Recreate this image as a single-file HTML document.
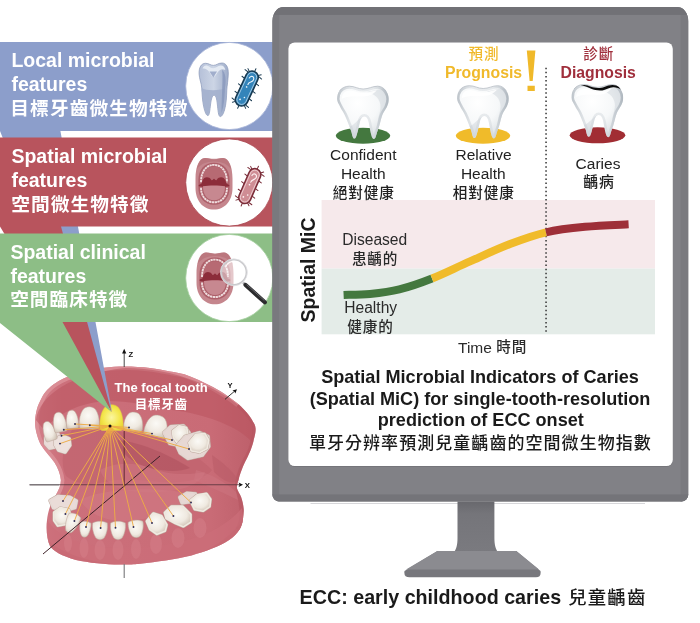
<!DOCTYPE html>
<html><head><meta charset="utf-8"><title>Spatial MiC</title>
<style>html,body{margin:0;padding:0;background:#fff}svg{display:block;will-change:transform}text{font-family:"Liberation Sans",sans-serif}text.cjk{font-family:"Liberation Sans","Noto Sans CJK TC",sans-serif}</style>
</head><body>
<svg width="700" height="623" viewBox="0 0 700 623">
<defs>
<radialGradient id="tg" cx="0.4" cy="0.32" r="0.8"><stop offset="0" stop-color="#ffffff"/><stop offset="0.5" stop-color="#f6f8f9"/><stop offset="1" stop-color="#d4dade"/></radialGradient>
<linearGradient id="tg2" x1="0" y1="0" x2="1" y2="0"><stop offset="0" stop-color="#aab2ba" stop-opacity="0.75"/><stop offset="0.3" stop-color="#c5ccd2" stop-opacity="0.35"/><stop offset="0.7" stop-color="#c5ccd2" stop-opacity="0.35"/><stop offset="1" stop-color="#a2abb4" stop-opacity="0.8"/></linearGradient>
</defs>
<rect width="700" height="623" fill="#fff"/>
<defs><linearGradient id="gumg" x1="0" y1="0" x2="1" y2="0"><stop offset="0" stop-color="#d27e88"/><stop offset="0.12" stop-color="#cc707b"/><stop offset="0.8" stop-color="#c96b76"/><stop offset="1" stop-color="#bd5f6a"/></linearGradient><radialGradient id="ivory" cx="0.45" cy="0.4" r="0.7"><stop offset="0" stop-color="#fbfaf6"/><stop offset="0.6" stop-color="#efe9e0"/><stop offset="1" stop-color="#cfc2b4"/></radialGradient><radialGradient id="ivoryT" cx="0.45" cy="0.4" r="0.7"><stop offset="0" stop-color="#f3ece8"/><stop offset="0.6" stop-color="#e2d2cd"/><stop offset="1" stop-color="#c3a8a6"/></radialGradient><radialGradient id="yel" cx="0.5" cy="0.5" r="0.6"><stop offset="0" stop-color="#fbf6a0"/><stop offset="0.6" stop-color="#f4e74e"/><stop offset="1" stop-color="#e6d232"/></radialGradient><clipPath id="jawclip"><path d="M67.1,377.1 C63,378.8 59,380.8 55.7,382.9 C52.5,385 49.5,387.3 47.1,390 C44.8,392.6 42.8,395.5 41.4,398.6 C39.7,402 38,405 37.1,408.6 C36,412.5 35.2,417 35,421 C34.9,425 35.6,429.5 36.5,433 C37.5,437 39,441.5 41,445 C45,451.5 51,457 54.5,462.6 C58,468 60.5,475 60.9,480 C61,485 59,490 56,494.7 C52,500 48,510 47,520 C46,530 47,540 50,546 C53,551 62,556 76,560 C90,563 110,565 124,564.5 C132,564.5 136,564.2 140,563.7 C149,562.8 157,561.8 165.7,560.6 C174.5,559.2 183,557.5 191.4,555.4 C198.5,553.5 205.5,551.2 212,548.6 C218,546.2 224,543.5 229.1,540 C233.5,537 237,533.5 239.4,529.7 C241.3,526.6 242.5,523 242.9,519.4 C243.3,516 244,512.5 243.7,509 C243.4,505 242.3,500.5 241.1,497 C240,494 237.8,491.5 237,488.6 C236.6,486 237.5,483 238.6,480 C240,473 244,464 245.8,460.5 C249,455 253,445 253.8,439.6 C255,435 256,431 255.5,428 C255,424 254,423.5 252.9,421.4 C251,418 249.5,415.5 247.1,412.9 C244.5,410 241.5,406.8 238.6,404.3 C235,401.3 231,398.5 227.1,395.7 C222.5,392.6 217.5,389.6 212.9,387.1 C208,384.5 203.5,382.2 198.6,380 C194,378 189,376 184.3,374.3 C179.5,372.8 175,372.2 170,371.4 C163,370 157,368.8 150,368 C142,367 133,366.5 125,366.5 C110,366.5 97,368.5 86,371 C79,372.5 72.5,374.8 67.1,377.1 Z"/></clipPath></defs>
<path d="M67.1,377.1 C63,378.8 59,380.8 55.7,382.9 C52.5,385 49.5,387.3 47.1,390 C44.8,392.6 42.8,395.5 41.4,398.6 C39.7,402 38,405 37.1,408.6 C36,412.5 35.2,417 35,421 C34.9,425 35.6,429.5 36.5,433 C37.5,437 39,441.5 41,445 C45,451.5 51,457 54.5,462.6 C58,468 60.5,475 60.9,480 C61,485 59,490 56,494.7 C52,500 48,510 47,520 C46,530 47,540 50,546 C53,551 62,556 76,560 C90,563 110,565 124,564.5 C132,564.5 136,564.2 140,563.7 C149,562.8 157,561.8 165.7,560.6 C174.5,559.2 183,557.5 191.4,555.4 C198.5,553.5 205.5,551.2 212,548.6 C218,546.2 224,543.5 229.1,540 C233.5,537 237,533.5 239.4,529.7 C241.3,526.6 242.5,523 242.9,519.4 C243.3,516 244,512.5 243.7,509 C243.4,505 242.3,500.5 241.1,497 C240,494 237.8,491.5 237,488.6 C236.6,486 237.5,483 238.6,480 C240,473 244,464 245.8,460.5 C249,455 253,445 253.8,439.6 C255,435 256,431 255.5,428 C255,424 254,423.5 252.9,421.4 C251,418 249.5,415.5 247.1,412.9 C244.5,410 241.5,406.8 238.6,404.3 C235,401.3 231,398.5 227.1,395.7 C222.5,392.6 217.5,389.6 212.9,387.1 C208,384.5 203.5,382.2 198.6,380 C194,378 189,376 184.3,374.3 C179.5,372.8 175,372.2 170,371.4 C163,370 157,368.8 150,368 C142,367 133,366.5 125,366.5 C110,366.5 97,368.5 86,371 C79,372.5 72.5,374.8 67.1,377.1 Z" fill="url(#gumg)"/>
<g clip-path="url(#jawclip)">
<path d="M56,494.7 C59,490 61,485 60.9,480 C60.5,475 58,468 54.5,462.6 C51,457 45,451.5 41,445 C39,441.5 37.5,437 36.5,433 C35.6,429.5 34.9,425 35,421 C35.2,417 36,412.5 37.1,408.6 C38,405 39.7,402 41.4,398.6 C42.8,395.5 44.8,392.6 47.1,390 C49.5,387.3 52.5,385 55.7,382.9 C59,380.8 63,378.8 67.1,377.1 C72.5,374.8 79,372.5 86,371 C97,368.5 110,366.5 125,366.5 C133,366.5 142,367 150,368 C157,368.8 163,370 170,371.4 C175,372.2 179.5,372.8 184.3,374.3 C189,376 194,378 198.6,380 C203.5,382.2 208,384.5 212.9,387.1 C217.5,389.6 222.5,392.6 227.1,395.7 C231,398.5 235,401.3 238.6,404.3" fill="none" stroke="#dd939b" stroke-width="7" opacity="0.8"/>
<path d="M238.6,404.3 C244,409 252,418 254.5,424 C256,428 255,435 253.8,439.6 C253,445 249,455 245.8,460.5 C244,464 240,473 238.6,480 C237.5,487 238.5,490 240,494 C241,498 242.5,508 242.6,513.5 C243,518 241,526 238,530" fill="none" stroke="#b4545f" stroke-width="6" opacity="0.55"/>
<path d="M36,420 C40,395 70,374 125,368 C175,368 222,388 246,412 C254,424 254,436 252,442 C238,426 205,414 172,410 C150,405 125,401 110,401 C88,401 60,410 44,430 Z" fill="#b9545f" opacity="0.55"/>
<path d="M72,430 C85,428 100,430 111,431 C125,431 150,436 170,444 C190,452 205,462 212,470 C205,480 180,484 160,482 C140,480 120,478 105,482 C90,486 75,484 66,476 C60,465 62,445 72,430 Z" fill="#bd606c" opacity="0.55"/>
<path d="M118,440 C140,442 170,455 190,468 C175,474 150,470 135,462 C125,456 118,448 118,440 Z" fill="#ad505d" opacity="0.55"/>
<path d="M100,470 C115,462 135,462 150,468 C165,474 185,476 205,472 C200,488 170,494 140,492 C120,491 105,484 100,470 Z" fill="#cf7781" opacity="0.55"/>
<path d="M80,500 C100,488 160,486 190,494 C180,510 150,520 125,521 C105,521 88,514 80,500 Z" fill="#d17b85" opacity="0.5"/>
<path d="M212,455 C222,462 232,470 238,480 C232,486 222,480 214,472 Z" fill="#b85a66" opacity="0.5"/>
<path d="M196,470 C210,474 226,482 236,492 L238,500 C226,494 208,486 194,480 Z" fill="#cf7882" opacity="0.45"/>
<path d="M47,520 C60,540 90,548 125,548 C165,548 215,540 242,508 L246,540 L200,575 L60,575 L40,545 Z" fill="#cc6e79" opacity="0.7"/>
<ellipse cx="84" cy="548.0" rx="4.5" ry="10.0" fill="#d58089" opacity="0.5"/>
<ellipse cx="100" cy="550.0" rx="5.5" ry="10.0" fill="#d58089" opacity="0.5"/>
<ellipse cx="118" cy="550.0" rx="5.5" ry="10.0" fill="#d58089" opacity="0.5"/>
<ellipse cx="136" cy="549.0" rx="5.0" ry="10.0" fill="#d58089" opacity="0.5"/>
<ellipse cx="156" cy="544.0" rx="6.0" ry="10.0" fill="#d58089" opacity="0.5"/>
<ellipse cx="178" cy="538.0" rx="6.5" ry="10.0" fill="#d58089" opacity="0.5"/>
<ellipse cx="200" cy="528.0" rx="6.5" ry="10.0" fill="#d58089" opacity="0.5"/>
<ellipse cx="68" cy="543.0" rx="4.0" ry="9.0" fill="#d58089" opacity="0.5"/>
<path d="M47,540 C70,560 110,566 140,565 C180,563 220,552 243,520 L250,580 L40,580 Z" fill="#bd5f6a" opacity="0.22"/>
</g>
<path d="M45.6,437.4 L50.4,432.8 L57.8,433.5 L60.3,439.5 L57.0,446.8 L49.6,448.2 L45.6,443.6 Z" fill="#bda79c" stroke="#bda79c" stroke-width="4.1000000000000005" stroke-linejoin="round" opacity="0.97"/><path d="M45.6,437.4 L50.4,432.8 L57.8,433.5 L60.3,439.5 L57.0,446.8 L49.6,448.2 L45.6,443.6 Z" fill="#e9dcd8" stroke="#e9dcd8" stroke-width="3.2" stroke-linejoin="round" opacity="0.97"/><path d="M45.6,437.4 L50.4,432.8 L57.8,433.5 L60.3,439.5 L57.0,446.8 L49.6,448.2 L45.6,443.6 Z" fill="#e9dcd8" opacity="0.97"/>
<path d="M55.8,439.0 L62.6,436.0 L69.2,438.7 L69.9,445.4 L65.2,452.2 L58.6,450.2 L55.2,444.7 Z" fill="#bda79c" stroke="#bda79c" stroke-width="4.1000000000000005" stroke-linejoin="round" opacity="0.97"/><path d="M55.8,439.0 L62.6,436.0 L69.2,438.7 L69.9,445.4 L65.2,452.2 L58.6,450.2 L55.2,444.7 Z" fill="#ede2de" stroke="#ede2de" stroke-width="3.2" stroke-linejoin="round" opacity="0.97"/><path d="M55.8,439.0 L62.6,436.0 L69.2,438.7 L69.9,445.4 L65.2,452.2 L58.6,450.2 L55.2,444.7 Z" fill="#ede2de" opacity="0.97"/>
<path d="M43.0,438.6 C42.8,433.0 43.5,427.0 45.4,423.4 C47.0,420.4 51.0,420.4 52.6,423.4 C54.5,427.0 55.2,433.0 55.0,438.6 C55.0,440.2 54.4,441.0 53.3,441.0 L44.7,441.0 C43.6,441.0 43.0,440.2 43.0,438.6 Z" fill="url(#ivory)" stroke="#bda79c" stroke-width="0.5" transform="rotate(-18 49.0 431.0)"/>
<path d="M53.0,429.6 C52.7,424.0 53.5,418.0 55.6,414.4 C57.3,411.4 61.7,411.4 63.4,414.4 C65.5,418.0 66.3,424.0 66.0,429.6 C66.0,431.2 65.3,432.0 64.2,432.0 L54.8,432.0 C53.6,432.0 53.0,431.2 53.0,429.6 Z" fill="url(#ivory)" stroke="#bda79c" stroke-width="0.5" transform="rotate(-10 59.5 422.0)"/>
<path d="M66.0,426.1 C65.8,421.0 66.5,415.5 68.5,412.2 C70.1,409.5 74.2,409.5 75.8,412.2 C77.8,415.5 78.5,421.0 78.3,426.1 C78.3,427.6 77.7,428.3 76.6,428.3 L67.7,428.3 C66.6,428.3 66.0,427.6 66.0,426.1 Z" fill="url(#ivory)" stroke="#bda79c" stroke-width="0.5" transform="rotate(-5 72.2 419.1)"/>
<path d="M79.3,426.1 C78.9,419.9 80.1,413.3 83.3,409.3 C85.9,405.9 92.7,405.9 95.3,409.3 C98.5,413.3 99.7,419.9 99.3,426.1 C99.3,427.9 98.3,428.8 96.5,428.8 L82.1,428.8 C80.3,428.8 79.3,427.9 79.3,426.1 Z" fill="url(#ivory)" stroke="#bda79c" stroke-width="0.5" transform="rotate(0 89.3 417.7)"/>
<path d="M124.0,428.7 C123.6,423.4 124.8,417.7 127.8,414.3 C130.3,411.4 136.7,411.4 139.2,414.3 C142.2,417.7 143.4,423.4 143.0,428.7 C143.0,430.2 142.1,431.0 140.3,431.0 L126.7,431.0 C125.0,431.0 124.0,430.2 124.0,428.7 Z" fill="url(#ivory)" stroke="#bda79c" stroke-width="0.5" transform="rotate(4 133.5 421.5)"/>
<path d="M145.5,433.9 C145.1,427.9 146.4,421.4 150.0,417.6 C152.9,414.4 160.6,414.4 163.5,417.6 C167.1,421.4 168.4,427.9 168.0,433.9 C168.0,435.6 166.9,436.5 164.8,436.5 L148.7,436.5 C146.6,436.5 145.5,435.6 145.5,433.9 Z" fill="url(#ivory)" stroke="#bda79c" stroke-width="0.5" transform="rotate(14 156.8 425.8)"/>
<path d="M164.0,432.8 L171.0,426.5 L183.5,425.8 L189.0,432.5 L187.5,442.0 L180.5,445.8 L169.8,443.4 Z" fill="#bda79c" stroke="#bda79c" stroke-width="4.1000000000000005" stroke-linejoin="round" opacity="0.97"/><path d="M164.0,432.8 L171.0,426.5 L183.5,425.8 L189.0,432.5 L187.5,442.0 L180.5,445.8 L169.8,443.4 Z" fill="#e6d8d4" stroke="#e6d8d4" stroke-width="3.2" stroke-linejoin="round" opacity="0.97"/><path d="M164.0,432.8 L171.0,426.5 L183.5,425.8 L189.0,432.5 L187.5,442.0 L180.5,445.8 L169.8,443.4 Z" fill="#e6d8d4" opacity="0.97"/>
<path d="M173.3,431.2 L179.3,426.6 L186.0,428.0 L187.5,435.7 L183.6,442.4 L177.0,441.6 L174.0,437.2 Z" fill="#bda79c" stroke="#bda79c" stroke-width="4.1000000000000005" stroke-linejoin="round" opacity="1"/><path d="M173.3,431.2 L179.3,426.6 L186.0,428.0 L187.5,435.7 L183.6,442.4 L177.0,441.6 L174.0,437.2 Z" fill="url(#ivory)" stroke="#efe9e0" stroke-width="3.2" stroke-linejoin="round" opacity="1"/><path d="M173.3,431.2 L179.3,426.6 L186.0,428.0 L187.5,435.7 L183.6,442.4 L177.0,441.6 L174.0,437.2 Z" fill="url(#ivory)" opacity="1"/>
<path d="M177.0,446.0 L185.0,436.8 L199.5,432.6 L208.0,436.4 L208.8,446.6 L202.3,455.2 L188.0,458.5 L180.2,453.0 Z" fill="#bda79c" stroke="#bda79c" stroke-width="4.1000000000000005" stroke-linejoin="round" opacity="0.97"/><path d="M177.0,446.0 L185.0,436.8 L199.5,432.6 L208.0,436.4 L208.8,446.6 L202.3,455.2 L188.0,458.5 L180.2,453.0 Z" fill="#e6d8d4" stroke="#e6d8d4" stroke-width="3.2" stroke-linejoin="round" opacity="0.97"/><path d="M177.0,446.0 L185.0,436.8 L199.5,432.6 L208.0,436.4 L208.8,446.6 L202.3,455.2 L188.0,458.5 L180.2,453.0 Z" fill="#e6d8d4" opacity="0.97"/>
<path d="M189.6,442.8 L195.8,435.2 L204.5,434.3 L208.0,440.3 L206.4,448.2 L199.4,451.8 L191.8,450.2 Z" fill="#bda79c" stroke="#bda79c" stroke-width="4.1000000000000005" stroke-linejoin="round" opacity="1"/><path d="M189.6,442.8 L195.8,435.2 L204.5,434.3 L208.0,440.3 L206.4,448.2 L199.4,451.8 L191.8,450.2 Z" fill="url(#ivory)" stroke="#efe9e0" stroke-width="3.2" stroke-linejoin="round" opacity="1"/><path d="M189.6,442.8 L195.8,435.2 L204.5,434.3 L208.0,440.3 L206.4,448.2 L199.4,451.8 L191.8,450.2 Z" fill="url(#ivory)" opacity="1"/>
<path d="M50.4,500.6 L57.8,496.4 L69.8,497.2 L76.4,500.8 L75.0,507.8 L66.6,510.0 L53.4,507.8 Z" fill="#bda79c" stroke="#bda79c" stroke-width="4.1000000000000005" stroke-linejoin="round" opacity="0.97"/><path d="M50.4,500.6 L57.8,496.4 L69.8,497.2 L76.4,500.8 L75.0,507.8 L66.6,510.0 L53.4,507.8 Z" fill="#e9dcd8" stroke="#e9dcd8" stroke-width="3.2" stroke-linejoin="round" opacity="0.97"/><path d="M50.4,500.6 L57.8,496.4 L69.8,497.2 L76.4,500.8 L75.0,507.8 L66.6,510.0 L53.4,507.8 Z" fill="#e9dcd8" opacity="0.97"/>
<path d="M54.5,512.6 L60.4,508.4 L68.4,510.0 L70.5,517.2 L66.2,523.8 L58.0,525.3 L54.5,520.3 Z" fill="#bda79c" stroke="#bda79c" stroke-width="4.1000000000000005" stroke-linejoin="round" opacity="1"/><path d="M54.5,512.6 L60.4,508.4 L68.4,510.0 L70.5,517.2 L66.2,523.8 L58.0,525.3 L54.5,520.3 Z" fill="url(#ivory)" stroke="#efe9e0" stroke-width="3.2" stroke-linejoin="round" opacity="1"/><path d="M54.5,512.6 L60.4,508.4 L68.4,510.0 L70.5,517.2 L66.2,523.8 L58.0,525.3 L54.5,520.3 Z" fill="url(#ivory)" opacity="1"/>
<path d="M65.6,515.0 C69.2,512.6 74.8,512.6 78.4,515.0 C79.3,521.0 77.3,529.0 75.1,532.0 C73.4,533.6 70.6,533.6 68.9,532.0 C66.7,529.0 64.7,521.0 65.6,515.0 Z" fill="url(#ivory)" stroke="#bda79c" stroke-width="0.5" transform="rotate(22 72.0 523.0)"/>
<path d="M79.5,522.6 C82.6,520.7 87.4,520.7 90.5,522.6 C91.2,527.4 89.6,533.8 87.6,536.2 C86.2,537.5 83.8,537.5 82.4,536.2 C80.4,533.8 78.8,527.4 79.5,522.6 Z" fill="url(#ivory)" stroke="#bda79c" stroke-width="0.5" transform="rotate(6 85.0 529.0)"/>
<path d="M92.6,522.9 C96.8,520.6 103.2,520.6 107.4,522.9 C108.3,528.4 106.1,535.8 103.5,538.6 C101.6,540.1 98.4,540.1 96.5,538.6 C93.9,535.8 91.7,528.4 92.6,522.9 Z" fill="url(#ivory)" stroke="#bda79c" stroke-width="0.5" transform="rotate(0 100.0 530.2)"/>
<path d="M110.6,522.9 C114.8,520.6 121.2,520.6 125.4,522.9 C126.3,528.4 124.1,535.8 121.5,538.6 C119.6,540.1 116.4,540.1 114.5,538.6 C111.9,535.8 109.7,528.4 110.6,522.9 Z" fill="url(#ivory)" stroke="#bda79c" stroke-width="0.5" transform="rotate(0 118.0 530.2)"/>
<path d="M128.6,521.8 C132.8,519.6 139.2,519.6 143.4,521.8 C144.3,527.0 142.1,534.0 139.5,536.6 C137.6,538.0 134.4,538.0 132.5,536.6 C129.9,534.0 127.7,527.0 128.6,521.8 Z" fill="url(#ivory)" stroke="#bda79c" stroke-width="0.5" transform="rotate(-4 136.0 528.8)"/>
<path d="M147.2,521.3 L153.4,513.8 L161.0,516.2 L166.2,524.8 L164.6,530.6 L157.0,533.6 L150.4,529.0 Z" fill="#bda79c" stroke="#bda79c" stroke-width="4.1000000000000005" stroke-linejoin="round" opacity="1"/><path d="M147.2,521.3 L153.4,513.8 L161.0,516.2 L166.2,524.8 L164.6,530.6 L157.0,533.6 L150.4,529.0 Z" fill="url(#ivory)" stroke="#efe9e0" stroke-width="3.2" stroke-linejoin="round" opacity="1"/><path d="M147.2,521.3 L153.4,513.8 L161.0,516.2 L166.2,524.8 L164.6,530.6 L157.0,533.6 L150.4,529.0 Z" fill="url(#ivory)" opacity="1"/>
<path d="M165.2,512.8 L171.5,506.9 L182.5,506.9 L190.2,514.6 L190.2,521.6 L183.4,526.0 L175.5,522.8 L166.8,518.2 Z" fill="#bda79c" stroke="#bda79c" stroke-width="4.1000000000000005" stroke-linejoin="round" opacity="1"/><path d="M165.2,512.8 L171.5,506.9 L182.5,506.9 L190.2,514.6 L190.2,521.6 L183.4,526.0 L175.5,522.8 L166.8,518.2 Z" fill="url(#ivory)" stroke="#efe9e0" stroke-width="3.2" stroke-linejoin="round" opacity="1"/><path d="M165.2,512.8 L171.5,506.9 L182.5,506.9 L190.2,514.6 L190.2,521.6 L183.4,526.0 L175.5,522.8 L166.8,518.2 Z" fill="url(#ivory)" opacity="1"/>
<path d="M179.8,497.3 L186.8,493.2 L195.5,493.9 L191.0,501.6 L182.0,503.0 Z" fill="#bda79c" stroke="#bda79c" stroke-width="4.1000000000000005" stroke-linejoin="round" opacity="0.97"/><path d="M179.8,497.3 L186.8,493.2 L195.5,493.9 L191.0,501.6 L182.0,503.0 Z" fill="#e6d8d4" stroke="#e6d8d4" stroke-width="3.2" stroke-linejoin="round" opacity="0.97"/><path d="M179.8,497.3 L186.8,493.2 L195.5,493.9 L191.0,501.6 L182.0,503.0 Z" fill="#e6d8d4" opacity="0.97"/>
<path d="M190.9,500.8 L197.2,495.7 L206.4,494.2 L210.0,499.3 L209.2,506.2 L203.0,510.5 L195.0,509.0 Z" fill="#bda79c" stroke="#bda79c" stroke-width="4.1000000000000005" stroke-linejoin="round" opacity="1"/><path d="M190.9,500.8 L197.2,495.7 L206.4,494.2 L210.0,499.3 L209.2,506.2 L203.0,510.5 L195.0,509.0 Z" fill="url(#ivory)" stroke="#efe9e0" stroke-width="3.2" stroke-linejoin="round" opacity="1"/><path d="M190.9,500.8 L197.2,495.7 L206.4,494.2 L210.0,499.3 L209.2,506.2 L203.0,510.5 L195.0,509.0 Z" fill="url(#ivory)" opacity="1"/>
<path d="M100.0,427.4 C99.5,420.1 100.9,412.3 104.6,407.6 C107.6,403.7 115.4,403.7 118.4,407.6 C122.1,412.3 123.5,420.1 123.0,427.4 C123.0,429.5 121.8,430.5 119.8,430.5 L103.2,430.5 C101.2,430.5 100.0,429.5 100.0,427.4 Z" fill="url(#yel)" stroke="#e3d040" stroke-width="0.5" transform="rotate(0 111.5 417.5)"/>
<path d="M0,42 H273 V131 H60.4 L112,412 L0,131 Z" fill="#8c9ecb"/>
<path d="M0,137.5 H273 V226.5 H61 L111.6,412 L0,226.5 Z" fill="#b8545d"/>
<path d="M0,233.5 H273 V322 H62.5 L111.5,412 L0,323 Z" fill="#8dbe86"/>
<text x="11.4" y="66.8" font-size="19.5" fill="#fff" font-weight="bold" text-anchor="start" >Local microbial</text>
<text x="11.4" y="90.8" font-size="19.5" fill="#fff" font-weight="bold" text-anchor="start" >features</text>
<text class="cjk" x="10.34" y="115.01" font-size="18.7" letter-spacing="1.1" fill="#fff" font-weight="bold" text-anchor="start">目標牙齒微生物特徵</text>
<text x="11.4" y="162.9" font-size="19.5" fill="#fff" font-weight="bold" text-anchor="start" >Spatial microbial</text>
<text x="11.4" y="187" font-size="19.5" fill="#fff" font-weight="bold" text-anchor="start" >features</text>
<text class="cjk" x="11.14" y="211.11" font-size="18.7" letter-spacing="1.1" fill="#fff" font-weight="bold" text-anchor="start">空間微生物特徵</text>
<text x="10.4" y="258.7" font-size="19.5" fill="#fff" font-weight="bold" text-anchor="start" >Spatial clinical</text>
<text x="10.4" y="282.8" font-size="19.5" fill="#fff" font-weight="bold" text-anchor="start" >features</text>
<text class="cjk" x="10.14" y="306.17" font-size="18.6" letter-spacing="1.1" fill="#fff" font-weight="bold" text-anchor="start">空間臨床特徵</text>
<circle cx="229.3" cy="86" r="43.6" fill="#fff" stroke="#a8b5d8" stroke-width="0.8"/>
<circle cx="229.3" cy="182.5" r="43.6" fill="#fff" stroke="#a8434c" stroke-width="0.8"/>
<circle cx="229.3" cy="278" r="43.6" fill="#fff" stroke="#a5cf9f" stroke-width="0.8"/>
<line x1="124.2" y1="431" x2="124.2" y2="487.5" stroke="#6b2f38" stroke-width="1.1"/>
<line x1="124.2" y1="564" x2="124.2" y2="578" stroke="#77777a" stroke-width="1.1"/>
<line x1="124.2" y1="351" x2="124.2" y2="367" stroke="#333" stroke-width="0.9"/><path d="M124.2,348.8 L126.3,353.5 H122.1 Z" fill="#111"/>
<line x1="29.6" y1="484.8" x2="240" y2="484.8" stroke="#5a343c" stroke-width="1.1" opacity="0.85"/><path d="M243,484.8 L238.6,482.6 L239.6,484.8 L238.6,487 Z" fill="#111"/>
<line x1="29.6" y1="484.8" x2="59" y2="484.8" stroke="#77777a" stroke-width="1.1"/>
<line x1="43" y1="554" x2="160" y2="456" stroke="#3d2228" stroke-width="1"/>
<line x1="225" y1="399.3" x2="234.8" y2="391" stroke="#222" stroke-width="0.9"/><path d="M237,389.2 L235.3,393.5 L234.4,391.5 L232.4,390.5 Z" fill="#111"/>
<line x1="110" y1="426" x2="89.8" y2="425.3" stroke="#edac46" stroke-width="0.95"/>
<line x1="110" y1="426" x2="75" y2="424" stroke="#edac46" stroke-width="0.95"/>
<line x1="110" y1="426" x2="63.8" y2="429.8" stroke="#edac46" stroke-width="0.95"/>
<line x1="110" y1="426" x2="61.5" y2="435.7" stroke="#edac46" stroke-width="0.95"/>
<line x1="110" y1="426" x2="60" y2="443.6" stroke="#edac46" stroke-width="0.95"/>
<line x1="110" y1="426" x2="129" y2="427.5" stroke="#edac46" stroke-width="0.95"/>
<line x1="110" y1="426" x2="152" y2="433.6" stroke="#edac46" stroke-width="0.95"/>
<line x1="110" y1="426" x2="172" y2="440" stroke="#edac46" stroke-width="0.95"/>
<line x1="110" y1="426" x2="189" y2="449" stroke="#edac46" stroke-width="0.95"/>
<line x1="110" y1="426" x2="63" y2="501" stroke="#edac46" stroke-width="0.95"/>
<line x1="110" y1="426" x2="65.4" y2="514" stroke="#edac46" stroke-width="0.95"/>
<line x1="110" y1="426" x2="74.4" y2="521" stroke="#edac46" stroke-width="0.95"/>
<line x1="110" y1="426" x2="86" y2="527" stroke="#edac46" stroke-width="0.95"/>
<line x1="110" y1="426" x2="100.6" y2="528" stroke="#edac46" stroke-width="0.95"/>
<line x1="110" y1="426" x2="115.5" y2="527.7" stroke="#edac46" stroke-width="0.95"/>
<line x1="110" y1="426" x2="133.5" y2="527" stroke="#edac46" stroke-width="0.95"/>
<line x1="110" y1="426" x2="152" y2="523" stroke="#edac46" stroke-width="0.95"/>
<line x1="110" y1="426" x2="173.4" y2="516" stroke="#edac46" stroke-width="0.95"/>
<line x1="110" y1="426" x2="191" y2="502.5" stroke="#edac46" stroke-width="0.95"/>
<circle cx="89.8" cy="425.3" r="0.95" fill="#2d2a55"/>
<circle cx="75" cy="424" r="0.95" fill="#2d2a55"/>
<circle cx="63.8" cy="429.8" r="0.95" fill="#2d2a55"/>
<circle cx="61.5" cy="435.7" r="0.95" fill="#2d2a55"/>
<circle cx="60" cy="443.6" r="0.95" fill="#2d2a55"/>
<circle cx="129" cy="427.5" r="0.95" fill="#2d2a55"/>
<circle cx="152" cy="433.6" r="0.95" fill="#2d2a55"/>
<circle cx="172" cy="440" r="0.95" fill="#2d2a55"/>
<circle cx="189" cy="449" r="0.95" fill="#2d2a55"/>
<circle cx="63" cy="501" r="0.95" fill="#2d2a55"/>
<circle cx="65.4" cy="514" r="0.95" fill="#2d2a55"/>
<circle cx="74.4" cy="521" r="0.95" fill="#2d2a55"/>
<circle cx="86" cy="527" r="0.95" fill="#2d2a55"/>
<circle cx="100.6" cy="528" r="0.95" fill="#2d2a55"/>
<circle cx="115.5" cy="527.7" r="0.95" fill="#2d2a55"/>
<circle cx="133.5" cy="527" r="0.95" fill="#2d2a55"/>
<circle cx="152" cy="523" r="0.95" fill="#2d2a55"/>
<circle cx="173.4" cy="516" r="0.95" fill="#2d2a55"/>
<circle cx="191" cy="502.5" r="0.95" fill="#2d2a55"/>
<circle cx="110" cy="426" r="1.5" fill="#111"/>
<text x="128.6" y="356.8" font-size="7.6" font-family="Liberation Sans, sans-serif" font-weight="bold" fill="#111">Z</text>
<text x="244.8" y="487.6" font-size="7.8" font-family="Liberation Sans, sans-serif" font-weight="bold" fill="#111">X</text>
<text x="227.6" y="387.6" font-size="7.6" font-family="Liberation Sans, sans-serif" font-weight="bold" fill="#111">Y</text>
<text x="114.6" y="392" font-size="13" font-family="Liberation Sans, sans-serif" font-weight="bold" fill="#fff">The focal tooth</text>
<text class="cjk" x="134.86" y="408.74" font-size="12.5" letter-spacing="0.7" fill="#fff" font-weight="bold" text-anchor="start">目標牙齒</text>
<clipPath id="monclip"><path d="M283.4,7.1 H677.3 A11,14 0 0 1 688.3,21.1 V494.6 A7,7 0 0 1 681.3,501.6 H279.4 A7,7 0 0 1 272.4,494.6 V21.1 A11,14 0 0 1 283.4,7.1 Z"/></clipPath>
<g clip-path="url(#monclip)"><rect x="272" y="7" width="417" height="495" fill="#818186"/><rect x="272" y="7" width="7.2" height="495" fill="#79797e"/><rect x="680.6" y="7" width="8" height="495" fill="#7a7a7f"/><rect x="272" y="7" width="417" height="7.9" fill="#717176"/><rect x="272" y="494.4" width="417" height="8" fill="#747479"/></g>
<rect x="310.5" y="503" width="334.5" height="1" fill="#d6d6d9"/>
<rect x="288.4" y="42.5" width="384.4" height="424.4" rx="6.3" fill="#75757a"/>
<rect x="288.4" y="42.5" width="384.4" height="423.6" rx="6.3" fill="#fff"/>
<linearGradient id="neck" x1="0" y1="0" x2="0" y2="1"><stop offset="0" stop-color="#68686d"/><stop offset="0.25" stop-color="#75757a"/><stop offset="1" stop-color="#7a7a7f"/></linearGradient>
<path d="M457.5,501.5 H494.4 V538 C494.4,545 495.8,549 497.5,551.5 H454.5 C456.2,549 457.5,545 457.5,538 Z" fill="url(#neck)"/>
<path d="M437.4,551 H516.3 L540.5,571 Q541.5,577.3 536,577.3 H409.5 Q403.5,577.3 404.5,571 Z" fill="#77777c"/>
<path d="M437.4,551 H516.3 L539,569.5 H406 Z" fill="#8b8b90"/>
<text x="299.6" y="603.8" font-size="19.7" fill="#1a1a1a" font-weight="bold" text-anchor="start" >ECC: early childhood caries</text>
<text class="cjk" x="568.19" y="604.30" font-size="18.4" letter-spacing="1.2" fill="#1a1a1a" font-weight="500" text-anchor="start">兒童齲齒</text>
<rect x="321.6" y="200" width="333.4" height="68.6" fill="#f6e9eb"/>
<rect x="321.6" y="268.6" width="333.4" height="65.7" fill="#e4ece8"/>
<line x1="546.05" y1="67.75" x2="546.05" y2="334.3" stroke="#333" stroke-width="1.5" stroke-dasharray="1.5 2.6"/>
<path d="M343.6,295 C348.0,294.8 360.7,294.8 370,293.9 C379.3,293.0 389.0,292.0 399.3,289.4 C409.6,286.8 420.2,283.2 432,278.5" fill="none" stroke="#44783f" stroke-width="8"/>
<path d="M432,278.5 C443.8,273.8 457.0,267.1 470,261.4 C483.0,255.6 497.3,248.8 510,244 C522.7,239.2 533.5,235.2 546,232.3" fill="none" stroke="#f0bb2a" stroke-width="8"/>
<path d="M546,232.3 C558.5,229.4 571.2,228.1 585,226.8 C598.8,225.5 621.3,224.7 628.6,224.3" fill="none" stroke="#9e2f38" stroke-width="8"/>
<text transform="translate(314.5,322.5) rotate(-90)" font-size="19.5" font-weight="bold" fill="#1a1a1a">Spatial MiC</text>
<text x="374.7" y="244.5" font-size="15.6" fill="#2a2a2a" font-weight="normal" text-anchor="middle" >Diseased</text>
<text class="cjk" x="351.88" y="263.77" font-size="14.6" letter-spacing="0.9" fill="#2a2a2a" font-weight="500" text-anchor="start">患齲的</text>
<text x="370.7" y="313" font-size="15.6" fill="#2a2a2a" font-weight="normal" text-anchor="middle" >Healthy</text>
<text class="cjk" x="347.18" y="332.27" font-size="14.6" letter-spacing="0.9" fill="#2a2a2a" font-weight="500" text-anchor="start">健康的</text>
<text x="458" y="352.9" font-size="15.5" fill="#2a2a2a" font-weight="normal" text-anchor="start" >Time</text>
<text class="cjk" x="496.23" y="351.87" font-size="14.6" letter-spacing="0.9" fill="#2a2a2a" font-weight="500" text-anchor="start">時間</text>
<text x="480" y="382.8" font-size="18.1" fill="#1a1a1a" font-weight="bold" text-anchor="middle" >Spatial Microbial Indicators of Caries</text>
<text x="480" y="404.5" font-size="18.1" fill="#1a1a1a" font-weight="bold" text-anchor="middle" >(Spatial MiC) for single-tooth-resolution</text>
<text x="480.8" y="426" font-size="18.1" fill="#1a1a1a" font-weight="bold" text-anchor="middle" >prediction of ECC onset</text>
<text class="cjk" x="308.92" y="448.96" font-size="17" letter-spacing="1.05" fill="#1a1a1a" font-weight="500" text-anchor="start">單牙分辨率預測兒童齲齒的空間微生物指數</text>
<text class="cjk" x="468.53" y="59.47" font-size="14.6" letter-spacing="0.9" fill="#f0b92a" font-weight="500" text-anchor="start">預測</text>
<text x="483.5" y="77.7" font-size="15.8" fill="#f0b92a" font-weight="bold" text-anchor="middle" >Prognosis</text>
<path d="M526.8,50.6 H535.4 L532.7,81 H529.6 Z M527.5,85.8 H534.8 V91.1 H527.5 Z" fill="#f0b92a"/>
<text class="cjk" x="583.23" y="59.37" font-size="14.6" letter-spacing="0.9" fill="#a02f3c" font-weight="500" text-anchor="start">診斷</text>
<text x="598.2" y="78.3" font-size="15.75" fill="#a02f3c" font-weight="bold" text-anchor="middle" >Diagnosis</text>
<ellipse cx="363" cy="135.7" rx="27.2" ry="8" fill="#44783f"/>
<ellipse cx="483" cy="135.7" rx="27.2" ry="8" fill="#f0bb2a"/>
<ellipse cx="597.5" cy="135.3" rx="27.8" ry="8" fill="#a12d33"/>
<clipPath id="toothclip"><path d="M0.3,13 C0.3,9 1.2,6.5 2.8,4.6 C5,1.8 8.5,0.1 12.4,0.1 C18,0.1 21,2.9 26.4,2.9 C32,2.9 35.5,0.1 41,0.1 C44.5,0.1 47.5,2.3 49.4,5.2 C51,7.5 52,10 52,13 C52,16 51.2,18.5 50,20.9 C48.6,23.8 46.5,26 45.5,28.8 C44.5,31.5 43.9,34 43.3,36.6 C42.5,40 41.5,43 40.4,45.6 C39.4,48.5 38.8,52.9 37.1,52.9 C35.3,52.9 34.3,48.5 33.7,45.6 C33,42.5 32.7,39.5 32,36.6 C31.3,33.5 30,30.5 27.5,30.5 C25,30.5 23.7,33.5 23,36.6 C22.3,39.5 21.6,42.5 20.8,45.6 C20,48.5 19.3,52.4 17.6,52.4 C16,52.4 15.3,48.5 14.6,45.6 C13.7,42.5 12.3,39.5 11.2,36.6 C10.2,34 9.2,31.5 7.9,28.8 C6.5,26 4.6,23.5 3.4,20.9 C2,18 0.3,16 0.3,13 Z"/></clipPath>
<g transform="translate(336.8,86.1)"><path d="M0.3,13 C0.3,9 1.2,6.5 2.8,4.6 C5,1.8 8.5,0.1 12.4,0.1 C18,0.1 21,2.9 26.4,2.9 C32,2.9 35.5,0.1 41,0.1 C44.5,0.1 47.5,2.3 49.4,5.2 C51,7.5 52,10 52,13 C52,16 51.2,18.5 50,20.9 C48.6,23.8 46.5,26 45.5,28.8 C44.5,31.5 43.9,34 43.3,36.6 C42.5,40 41.5,43 40.4,45.6 C39.4,48.5 38.8,52.9 37.1,52.9 C35.3,52.9 34.3,48.5 33.7,45.6 C33,42.5 32.7,39.5 32,36.6 C31.3,33.5 30,30.5 27.5,30.5 C25,30.5 23.7,33.5 23,36.6 C22.3,39.5 21.6,42.5 20.8,45.6 C20,48.5 19.3,52.4 17.6,52.4 C16,52.4 15.3,48.5 14.6,45.6 C13.7,42.5 12.3,39.5 11.2,36.6 C10.2,34 9.2,31.5 7.9,28.8 C6.5,26 4.6,23.5 3.4,20.9 C2,18 0.3,16 0.3,13 Z" fill="url(#tg)"/><g clip-path="url(#toothclip)"><path d="M30,6 C40,8 46,16 43,26 C41,33 40,42 38,53 L46,53 L54,20 L50,2 Z" fill="#d3d9de" opacity="0.55"/><path d="M27.5,30 C24,31 22.5,40 21,47 L17,53 L12,40 C16,42 20,33 27.5,30 Z" fill="#cfd5db" opacity="0.5"/><path d="M0.3,13 C0.3,9 1.2,6.5 2.8,4.6 C5,1.8 8.5,0.1 12.4,0.1 C18,0.1 21,2.9 26.4,2.9 C32,2.9 35.5,0.1 41,0.1 C44.5,0.1 47.5,2.3 49.4,5.2 C51,7.5 52,10 52,13 C52,16 51.2,18.5 50,20.9 C48.6,23.8 46.5,26 45.5,28.8 C44.5,31.5 43.9,34 43.3,36.6 C42.5,40 41.5,43 40.4,45.6 C39.4,48.5 38.8,52.9 37.1,52.9 C35.3,52.9 34.3,48.5 33.7,45.6 C33,42.5 32.7,39.5 32,36.6 C31.3,33.5 30,30.5 27.5,30.5 C25,30.5 23.7,33.5 23,36.6 C22.3,39.5 21.6,42.5 20.8,45.6 C20,48.5 19.3,52.4 17.6,52.4 C16,52.4 15.3,48.5 14.6,45.6 C13.7,42.5 12.3,39.5 11.2,36.6 C10.2,34 9.2,31.5 7.9,28.8 C6.5,26 4.6,23.5 3.4,20.9 C2,18 0.3,16 0.3,13 Z" fill="none" stroke="url(#tg2)" stroke-width="5"/><path d="M5,13 C5,8 8,4.5 12.5,4.5 C18,4.5 21,7 26.4,7 C32,7 35.5,4.5 40,4.5 C37,7.5 33,10.5 26,10.5 C17,10.5 9,10 5,13 Z" fill="#fff" opacity="0.85"/></g><path d="M2.8,4.6 C5,1.8 8.5,0.1 12.4,0.1 C18,0.1 21,2.9 26.4,2.9 C32,2.9 35.5,0.1 41,0.1 C44.5,0.1 47.5,2.3 49.4,5.2" fill="none" stroke="#b9bfc6" stroke-width="0.9" opacity="0.9"/></g>
<g transform="translate(456.8,85.6)"><path d="M0.3,13 C0.3,9 1.2,6.5 2.8,4.6 C5,1.8 8.5,0.1 12.4,0.1 C18,0.1 21,2.9 26.4,2.9 C32,2.9 35.5,0.1 41,0.1 C44.5,0.1 47.5,2.3 49.4,5.2 C51,7.5 52,10 52,13 C52,16 51.2,18.5 50,20.9 C48.6,23.8 46.5,26 45.5,28.8 C44.5,31.5 43.9,34 43.3,36.6 C42.5,40 41.5,43 40.4,45.6 C39.4,48.5 38.8,52.9 37.1,52.9 C35.3,52.9 34.3,48.5 33.7,45.6 C33,42.5 32.7,39.5 32,36.6 C31.3,33.5 30,30.5 27.5,30.5 C25,30.5 23.7,33.5 23,36.6 C22.3,39.5 21.6,42.5 20.8,45.6 C20,48.5 19.3,52.4 17.6,52.4 C16,52.4 15.3,48.5 14.6,45.6 C13.7,42.5 12.3,39.5 11.2,36.6 C10.2,34 9.2,31.5 7.9,28.8 C6.5,26 4.6,23.5 3.4,20.9 C2,18 0.3,16 0.3,13 Z" fill="url(#tg)"/><g clip-path="url(#toothclip)"><path d="M30,6 C40,8 46,16 43,26 C41,33 40,42 38,53 L46,53 L54,20 L50,2 Z" fill="#d3d9de" opacity="0.55"/><path d="M27.5,30 C24,31 22.5,40 21,47 L17,53 L12,40 C16,42 20,33 27.5,30 Z" fill="#cfd5db" opacity="0.5"/><path d="M0.3,13 C0.3,9 1.2,6.5 2.8,4.6 C5,1.8 8.5,0.1 12.4,0.1 C18,0.1 21,2.9 26.4,2.9 C32,2.9 35.5,0.1 41,0.1 C44.5,0.1 47.5,2.3 49.4,5.2 C51,7.5 52,10 52,13 C52,16 51.2,18.5 50,20.9 C48.6,23.8 46.5,26 45.5,28.8 C44.5,31.5 43.9,34 43.3,36.6 C42.5,40 41.5,43 40.4,45.6 C39.4,48.5 38.8,52.9 37.1,52.9 C35.3,52.9 34.3,48.5 33.7,45.6 C33,42.5 32.7,39.5 32,36.6 C31.3,33.5 30,30.5 27.5,30.5 C25,30.5 23.7,33.5 23,36.6 C22.3,39.5 21.6,42.5 20.8,45.6 C20,48.5 19.3,52.4 17.6,52.4 C16,52.4 15.3,48.5 14.6,45.6 C13.7,42.5 12.3,39.5 11.2,36.6 C10.2,34 9.2,31.5 7.9,28.8 C6.5,26 4.6,23.5 3.4,20.9 C2,18 0.3,16 0.3,13 Z" fill="none" stroke="url(#tg2)" stroke-width="5"/><path d="M5,13 C5,8 8,4.5 12.5,4.5 C18,4.5 21,7 26.4,7 C32,7 35.5,4.5 40,4.5 C37,7.5 33,10.5 26,10.5 C17,10.5 9,10 5,13 Z" fill="#fff" opacity="0.85"/></g><path d="M2.8,4.6 C5,1.8 8.5,0.1 12.4,0.1 C18,0.1 21,2.9 26.4,2.9 C32,2.9 35.5,0.1 41,0.1 C44.5,0.1 47.5,2.3 49.4,5.2" fill="none" stroke="#b9bfc6" stroke-width="0.9" opacity="0.9"/></g>
<g transform="translate(571.2,84.4)"><path d="M0.3,13 C0.3,9 1.2,6.5 2.8,4.6 C5,1.8 8.5,0.1 12.4,0.1 C18,0.1 21,2.9 26.4,2.9 C32,2.9 35.5,0.1 41,0.1 C44.5,0.1 47.5,2.3 49.4,5.2 C51,7.5 52,10 52,13 C52,16 51.2,18.5 50,20.9 C48.6,23.8 46.5,26 45.5,28.8 C44.5,31.5 43.9,34 43.3,36.6 C42.5,40 41.5,43 40.4,45.6 C39.4,48.5 38.8,52.9 37.1,52.9 C35.3,52.9 34.3,48.5 33.7,45.6 C33,42.5 32.7,39.5 32,36.6 C31.3,33.5 30,30.5 27.5,30.5 C25,30.5 23.7,33.5 23,36.6 C22.3,39.5 21.6,42.5 20.8,45.6 C20,48.5 19.3,52.4 17.6,52.4 C16,52.4 15.3,48.5 14.6,45.6 C13.7,42.5 12.3,39.5 11.2,36.6 C10.2,34 9.2,31.5 7.9,28.8 C6.5,26 4.6,23.5 3.4,20.9 C2,18 0.3,16 0.3,13 Z" fill="url(#tg)"/><g clip-path="url(#toothclip)"><path d="M30,6 C40,8 46,16 43,26 C41,33 40,42 38,53 L46,53 L54,20 L50,2 Z" fill="#d3d9de" opacity="0.55"/><path d="M27.5,30 C24,31 22.5,40 21,47 L17,53 L12,40 C16,42 20,33 27.5,30 Z" fill="#cfd5db" opacity="0.5"/><path d="M0.3,13 C0.3,9 1.2,6.5 2.8,4.6 C5,1.8 8.5,0.1 12.4,0.1 C18,0.1 21,2.9 26.4,2.9 C32,2.9 35.5,0.1 41,0.1 C44.5,0.1 47.5,2.3 49.4,5.2 C51,7.5 52,10 52,13 C52,16 51.2,18.5 50,20.9 C48.6,23.8 46.5,26 45.5,28.8 C44.5,31.5 43.9,34 43.3,36.6 C42.5,40 41.5,43 40.4,45.6 C39.4,48.5 38.8,52.9 37.1,52.9 C35.3,52.9 34.3,48.5 33.7,45.6 C33,42.5 32.7,39.5 32,36.6 C31.3,33.5 30,30.5 27.5,30.5 C25,30.5 23.7,33.5 23,36.6 C22.3,39.5 21.6,42.5 20.8,45.6 C20,48.5 19.3,52.4 17.6,52.4 C16,52.4 15.3,48.5 14.6,45.6 C13.7,42.5 12.3,39.5 11.2,36.6 C10.2,34 9.2,31.5 7.9,28.8 C6.5,26 4.6,23.5 3.4,20.9 C2,18 0.3,16 0.3,13 Z" fill="none" stroke="url(#tg2)" stroke-width="5"/><path d="M5,13 C5,8 8,4.5 12.5,4.5 C18,4.5 21,7 26.4,7 C32,7 35.5,4.5 40,4.5 C37,7.5 33,10.5 26,10.5 C17,10.5 9,10 5,13 Z" fill="#fff" opacity="0.85"/></g><path d="M2.8,4.6 C5,1.8 8.5,0.1 12.4,0.1 C18,0.1 21,2.9 26.4,2.9 C32,2.9 35.5,0.1 41,0.1 C44.5,0.1 47.5,2.3 49.4,5.2" fill="none" stroke="#b9bfc6" stroke-width="0.9" opacity="0.9"/><path d="M9.5,1.2 C13,-0.3 17,1.2 20,2.4 C23,3.6 29,4.2 33,2.6 C37,1 41,-0.3 45,1.2 C47,2 48.5,3.4 49.5,5 C47.5,3.6 45,2.6 42,2.8 C38,3 34.5,5.6 31,6 C27,6.4 23,5.6 20,4.4 C16,2.8 13,1.4 9.5,1.2 Z" fill="#0d0d0d"/></g>
<text x="363.3" y="160" font-size="15.5" fill="#222" font-weight="normal" text-anchor="middle" >Confident</text>
<text x="363.3" y="178.9" font-size="15.5" fill="#222" font-weight="normal" text-anchor="middle" >Health</text>
<text class="cjk" x="332.83" y="197.77" font-size="14.6" letter-spacing="0.9" fill="#222" font-weight="500" text-anchor="start">絕對健康</text>
<text x="483.5" y="160" font-size="15.5" fill="#222" font-weight="normal" text-anchor="middle" >Relative</text>
<text x="483.3" y="178.9" font-size="15.5" fill="#222" font-weight="normal" text-anchor="middle" >Health</text>
<text class="cjk" x="452.83" y="197.77" font-size="14.6" letter-spacing="0.9" fill="#222" font-weight="500" text-anchor="start">相對健康</text>
<text x="598" y="168.5" font-size="15.5" fill="#222" font-weight="normal" text-anchor="middle" >Caries</text>
<text class="cjk" x="583.13" y="187.17" font-size="14.9" letter-spacing="0.9" fill="#222" font-weight="500" text-anchor="start">齲病</text>
<defs><linearGradient id="bt" x1="0" y1="0" x2="1" y2="0"><stop offset="0" stop-color="#b5c0d8"/><stop offset="0.5" stop-color="#ccd5e5"/><stop offset="1" stop-color="#9eacc9"/></linearGradient></defs>
<path d="M199.1,74 C198.8,67 201.5,63.3 205.5,63.3 C209,63.3 210.5,65.4 213.3,65.4 C216.5,65.4 218,63 222,63 C226,63 228.6,67 228.3,74 C228.1,80 227,86 226.8,90 C226.5,97 226.3,104 224.5,110 C223.3,114 221.8,116.6 220.3,116.6 C218.3,116.6 218,110 217.3,104 C216.8,99 216,95.3 214.1,95.3 C212.2,95.3 211.3,99 210.6,104 C209.8,110 209.5,115.6 207.9,115.6 C206,115.6 204.2,110 203.2,104 C202.2,98 202.2,94 201.8,88.5 C201.4,83 199.3,79 199.1,74 Z" fill="url(#bt)" stroke="#8795b6" stroke-width="0.7"/>
<path d="M201.5,88 C206,91 221,91 226.8,87.5 C226.4,97 226,105 224.3,110 C223,114.5 221.5,116.3 220.3,116.3 C218.5,116 218.2,110 217.4,104 C216.9,99 216,95 214.1,95 C212.2,95 211.2,99 210.5,104 C209.7,110 209.4,115.3 207.9,115.3 C206.2,115.3 204.4,110 203.4,104 C202.4,98 202,93 201.5,88 Z" fill="#a3b0cd" opacity="0.9"/>
<path d="M222,70 C225.5,72 226.5,80 225,88 C224.5,98 224,106 221.5,113 C221.5,104 222,94 222.3,86 C222.5,79 222.8,74 222,70 Z" fill="#8797bb" opacity="0.8"/>
<path d="M202.5,68.5 C203.5,65.8 205.5,65 207.5,65.8 C210,66.8 211,68.3 213.3,68.3 C216,68.3 217.5,66 220.5,65.6 C223,65.3 225,67.5 225.3,70 C222,68.2 219.5,69.5 217.5,72.5 C216,75 214.5,77 213.3,77 C212,77 210.8,74.5 209.3,72 C207.5,69.3 205,68 202.5,68.5 Z" fill="#e4eaf3"/>
<path d="M209.5,71.5 L217,71.5 L213.3,77.5 Z" fill="#95a3c4" opacity="0.85"/>
<g transform="translate(246.8,88.5) rotate(24.8)"><line x1="-6.3" y1="-15.6" x2="-9.5" y2="-16.4" stroke="#17384f" stroke-width="1.0" stroke-linecap="round"/><line x1="6.3" y1="-15.6" x2="9.5" y2="-14.8" stroke="#17384f" stroke-width="1.0" stroke-linecap="round"/><line x1="-6.3" y1="-8.3" x2="-9.5" y2="-9.1" stroke="#17384f" stroke-width="1.0" stroke-linecap="round"/><line x1="6.3" y1="-8.3" x2="9.5" y2="-7.5" stroke="#17384f" stroke-width="1.0" stroke-linecap="round"/><line x1="-6.3" y1="0.0" x2="-9.5" y2="-0.8" stroke="#17384f" stroke-width="1.0" stroke-linecap="round"/><line x1="6.3" y1="0.0" x2="9.5" y2="0.8" stroke="#17384f" stroke-width="1.0" stroke-linecap="round"/><line x1="-6.3" y1="8.3" x2="-9.5" y2="7.5" stroke="#17384f" stroke-width="1.0" stroke-linecap="round"/><line x1="6.3" y1="8.3" x2="9.5" y2="9.1" stroke="#17384f" stroke-width="1.0" stroke-linecap="round"/><line x1="-6.3" y1="15.6" x2="-9.5" y2="14.8" stroke="#17384f" stroke-width="1.0" stroke-linecap="round"/><line x1="6.3" y1="15.6" x2="9.5" y2="16.4" stroke="#17384f" stroke-width="1.0" stroke-linecap="round"/><line x1="-4.8" y1="-16.4" x2="-7.3" y2="-18.5" stroke="#17384f" stroke-width="1.0" stroke-linecap="round"/><line x1="-4.8" y1="16.4" x2="-7.3" y2="18.5" stroke="#17384f" stroke-width="1.0" stroke-linecap="round"/><line x1="0.0" y1="-18.6" x2="0.0" y2="-21.8" stroke="#17384f" stroke-width="1.0" stroke-linecap="round"/><line x1="0.0" y1="18.6" x2="0.0" y2="21.8" stroke="#17384f" stroke-width="1.0" stroke-linecap="round"/><line x1="4.8" y1="-16.4" x2="7.3" y2="-18.5" stroke="#17384f" stroke-width="1.0" stroke-linecap="round"/><line x1="4.8" y1="16.4" x2="7.3" y2="18.5" stroke="#17384f" stroke-width="1.0" stroke-linecap="round"/><rect x="-6.3" y="-18.65" width="12.6" height="37.3" rx="6.3" fill="#3384ba" stroke="#17384f" stroke-width="1.5"/><rect x="-4.699999999999999" y="-17.049999999999997" width="9.399999999999999" height="34.099999999999994" rx="4.699999999999999" fill="none" stroke="#e8f3fb" stroke-width="0.55"/><path d="M-2.2,-10.649999999999999 C-2,-14.349999999999998 2.8,-14.049999999999999 2.4,-10.249999999999998 C2.1,-7.349999999999998 -1,-7.649999999999999 -0.7,-4.149999999999999" fill="none" stroke="#e8f3fb" stroke-width="1.15" stroke-linecap="round"/><circle cx="-0.8" cy="-1.3499999999999979" r="0.85" fill="#e8f3fb"/><circle cx="-1.6" cy="12.649999999999999" r="0.9" fill="#e8f3fb"/><circle cx="1.6" cy="9.149999999999999" r="0.8" fill="#e8f3fb"/></g>
<g transform="translate(249.8,186.1) rotate(23.5)"><line x1="-6.1" y1="-15.5" x2="-9.3" y2="-16.3" stroke="#7a2c38" stroke-width="1.0" stroke-linecap="round"/><line x1="6.1" y1="-15.5" x2="9.3" y2="-14.7" stroke="#7a2c38" stroke-width="1.0" stroke-linecap="round"/><line x1="-6.1" y1="-8.2" x2="-9.3" y2="-9.1" stroke="#7a2c38" stroke-width="1.0" stroke-linecap="round"/><line x1="6.1" y1="-8.2" x2="9.3" y2="-7.5" stroke="#7a2c38" stroke-width="1.0" stroke-linecap="round"/><line x1="-6.1" y1="0.0" x2="-9.3" y2="-0.8" stroke="#7a2c38" stroke-width="1.0" stroke-linecap="round"/><line x1="6.1" y1="0.0" x2="9.3" y2="0.8" stroke="#7a2c38" stroke-width="1.0" stroke-linecap="round"/><line x1="-6.1" y1="8.2" x2="-9.3" y2="7.5" stroke="#7a2c38" stroke-width="1.0" stroke-linecap="round"/><line x1="6.1" y1="8.2" x2="9.3" y2="9.1" stroke="#7a2c38" stroke-width="1.0" stroke-linecap="round"/><line x1="-6.1" y1="15.5" x2="-9.3" y2="14.7" stroke="#7a2c38" stroke-width="1.0" stroke-linecap="round"/><line x1="6.1" y1="15.5" x2="9.3" y2="16.3" stroke="#7a2c38" stroke-width="1.0" stroke-linecap="round"/><line x1="-4.7" y1="-16.3" x2="-7.1" y2="-18.4" stroke="#7a2c38" stroke-width="1.0" stroke-linecap="round"/><line x1="-4.7" y1="16.3" x2="-7.1" y2="18.4" stroke="#7a2c38" stroke-width="1.0" stroke-linecap="round"/><line x1="0.0" y1="-18.5" x2="0.0" y2="-21.7" stroke="#7a2c38" stroke-width="1.0" stroke-linecap="round"/><line x1="0.0" y1="18.5" x2="0.0" y2="21.7" stroke="#7a2c38" stroke-width="1.0" stroke-linecap="round"/><line x1="4.7" y1="-16.3" x2="7.1" y2="-18.4" stroke="#7a2c38" stroke-width="1.0" stroke-linecap="round"/><line x1="4.7" y1="16.3" x2="7.1" y2="18.4" stroke="#7a2c38" stroke-width="1.0" stroke-linecap="round"/><rect x="-6.1" y="-18.5" width="12.2" height="37" rx="6.1" fill="#cf8d94" stroke="#7a2c38" stroke-width="1.5"/><rect x="-4.5" y="-16.9" width="9.0" height="33.8" rx="4.5" fill="none" stroke="#fdf1f2" stroke-width="0.55"/><path d="M-2.2,-10.5 C-2,-14.2 2.8,-13.9 2.4,-10.1 C2.1,-7.199999999999999 -1,-7.5 -0.7,-4.0" fill="none" stroke="#fdf1f2" stroke-width="1.15" stroke-linecap="round"/><circle cx="-0.8" cy="-1.1999999999999993" r="0.85" fill="#fdf1f2"/><circle cx="-1.6" cy="12.5" r="0.9" fill="#fdf1f2"/><circle cx="1.6" cy="9.0" r="0.8" fill="#fdf1f2"/></g>
<g transform="translate(214,183.7)"><path d="M0,-24.2 C3,-24.2 5,-25.8 9,-25.8 C15,-25.8 18.5,-17 18.5,-5 L18.5,4 C18.5,17 11,25.8 0,25.8 C-11,25.8 -18.5,17 -18.5,4 L-18.5,-5 C-18.5,-17 -15,-25.8 -9,-25.8 C-5,-25.8 -3,-24.2 0,-24.2 Z" fill="#c5868d"/><path d="M0,-25 C3,-25 5,-25.8 9,-25.8 C13,-25.8 16,-21 17.4,-14 C14,-19.5 8,-22.3 0,-22.3 C-8,-22.3 -14,-19.5 -17.4,-14 C-16,-21 -13,-25.8 -9,-25.8 C-5,-25.8 -3,-25 0,-25 Z" fill="#b8737b" opacity="0.8"/><path d="M0,-21 C9.5,-21 15.6,-14 15.6,-4 L15.6,4 C15.6,14 9.5,21 0,21 C-9.5,21 -15.6,14 -15.6,4 L-15.6,-4 C-15.6,-14 -9.5,-21 0,-21 Z" fill="#ad5f69"/><path d="M0,-17.2 C7,-17.2 11.3,-12 11.3,-4 L11.3,2 L-11.3,2 L-11.3,-4 C-11.3,-12 -7,-17.2 0,-17.2 Z" fill="#b76a73"/><path d="M-12.6,0 L-11.5,-3 C-10,-7.2 -5.2,-7.6 -2.8,-4 C-1.7,-2.4 -0.8,-5 0,-5 C0.8,-5 1.7,-2.4 2.8,-4 C5.2,-7.6 10,-7.2 11.5,-3 L12.6,0 L15.3,1.2 L15.3,2.6 L11.5,3 L-11.5,3 L-15.3,2.6 L-15.3,1.2 Z" fill="#8c2d3a"/><path d="M-11,2.6 C-6,1.6 6,1.6 11,2.6 C11.2,10.5 7,16.6 0,16.6 C-7,16.6 -11.2,10.5 -11,2.6 Z" fill="#c78890"/><path d="M-13,-1.5 C-13,-12.5 -7.5,-18.8 0,-18.8 C7.5,-18.8 13,-12.5 13,-1.5" fill="none" stroke="#efdcdd" stroke-width="1.9" stroke-dasharray="2.3 0.5"/><path d="M-13,4 C-13,13 -7.5,18.6 0,18.6 C7.5,18.6 13,13 13,4" fill="none" stroke="#efdcdd" stroke-width="1.9" stroke-dasharray="2.3 0.5"/></g>
<g transform="translate(215,278.4)"><path d="M0,-24.2 C3,-24.2 5,-25.8 9,-25.8 C15,-25.8 18.5,-17 18.5,-5 L18.5,4 C18.5,17 11,25.8 0,25.8 C-11,25.8 -18.5,17 -18.5,4 L-18.5,-5 C-18.5,-17 -15,-25.8 -9,-25.8 C-5,-25.8 -3,-24.2 0,-24.2 Z" fill="#c5868d"/><path d="M0,-25 C3,-25 5,-25.8 9,-25.8 C13,-25.8 16,-21 17.4,-14 C14,-19.5 8,-22.3 0,-22.3 C-8,-22.3 -14,-19.5 -17.4,-14 C-16,-21 -13,-25.8 -9,-25.8 C-5,-25.8 -3,-25 0,-25 Z" fill="#b8737b" opacity="0.8"/><path d="M0,-21 C9.5,-21 15.6,-14 15.6,-4 L15.6,4 C15.6,14 9.5,21 0,21 C-9.5,21 -15.6,14 -15.6,4 L-15.6,-4 C-15.6,-14 -9.5,-21 0,-21 Z" fill="#ad5f69"/><path d="M0,-17.2 C7,-17.2 11.3,-12 11.3,-4 L11.3,2 L-11.3,2 L-11.3,-4 C-11.3,-12 -7,-17.2 0,-17.2 Z" fill="#b76a73"/><path d="M-12.6,0 L-11.5,-3 C-10,-7.2 -5.2,-7.6 -2.8,-4 C-1.7,-2.4 -0.8,-5 0,-5 C0.8,-5 1.7,-2.4 2.8,-4 C5.2,-7.6 10,-7.2 11.5,-3 L12.6,0 L15.3,1.2 L15.3,2.6 L11.5,3 L-11.5,3 L-15.3,2.6 L-15.3,1.2 Z" fill="#8c2d3a"/><path d="M-11,2.6 C-6,1.6 6,1.6 11,2.6 C11.2,10.5 7,16.6 0,16.6 C-7,16.6 -11.2,10.5 -11,2.6 Z" fill="#c78890"/><path d="M-13,-1.5 C-13,-12.5 -7.5,-18.8 0,-18.8 C7.5,-18.8 13,-12.5 13,-1.5" fill="none" stroke="#efdcdd" stroke-width="1.9" stroke-dasharray="2.3 0.5"/><path d="M-13,4 C-13,13 -7.5,18.6 0,18.6 C7.5,18.6 13,13 13,4" fill="none" stroke="#efdcdd" stroke-width="1.9" stroke-dasharray="2.3 0.5"/></g>
<circle cx="233.9" cy="272.3" r="12.6" fill="#ffffff" fill-opacity="0.55" stroke="#c9c9cc" stroke-width="1.8"/>
<circle cx="233.9" cy="272.3" r="13.5" fill="none" stroke="#e4e4e6" stroke-width="0.7"/>
<path d="M226,266 C228,262.5 232,261 236,261.5" fill="none" stroke="#fff" stroke-width="1.2" opacity="0.9"/>
<line x1="243.2" y1="282.6" x2="246.2" y2="285.6" stroke="#a9a9ad" stroke-width="2.6"/>
<line x1="245.6" y1="285" x2="264.8" y2="302.3" stroke="#2b2b2d" stroke-width="4.2" stroke-linecap="round"/>
<line x1="246.6" y1="284.6" x2="264.4" y2="300.6" stroke="#6a6a6e" stroke-width="0.9"/>
</svg>
</body></html>
